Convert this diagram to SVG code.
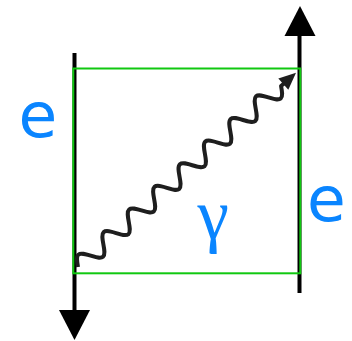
<svg xmlns="http://www.w3.org/2000/svg" width="352" height="341" viewBox="0 0 352 341">
<style>
.fermion{stroke:#000;stroke-width:4;fill:none}
.head{fill:#000}
.box{fill:none;stroke:#10c810;stroke-width:2}
.lbl{font-family:"DejaVu Sans",sans-serif;fill:#0a85ff;text-anchor:middle}
.greek{font-family:"Liberation Serif","DejaVu Serif",serif;fill:#0a85ff;text-anchor:middle}
.photon{fill:none;stroke:#1e1e1e;stroke-width:4;stroke-linejoin:round}
</style>
<rect width="352" height="341" fill="#fff"/>
<g id="connectors">
  <g id="electron-in">
    <line class="fermion" x1="74.5" y1="53" x2="74.5" y2="312"/>
    <polygon class="head" points="59,310 90,310 74.5,340"/>
  </g>
  <g id="electron-out">
    <line class="fermion" x1="299.5" y1="293" x2="299.5" y2="34"/>
    <polygon class="head" points="284.5,36 315.5,36 300,6"/>
  </g>
  <g id="photon" transform="translate(78,267) rotate(-41.7)">
    <path class="photon" d="M0,0 c2.772,-4.61 5.424,-9 8.5,-9 s5.728,4.39 8.5,9 s5.424,9 8.5,9 s5.728,-4.39 8.5,-9
    s5.424,-9 8.5,-9 s5.728,4.39 8.5,9 s5.424,9 8.5,9 s5.728,-4.39 8.5,-9
    s5.424,-9 8.5,-9 s5.728,4.39 8.5,9 s5.424,9 8.5,9 s5.728,-4.39 8.5,-9
    s5.424,-9 8.5,-9 s5.728,4.39 8.5,9 s5.424,9 8.5,9 s5.728,-4.39 8.5,-9
    s5.424,-9 8.5,-9 s5.728,4.39 8.5,9 s5.424,9 8.5,9 s5.728,-4.39 8.5,-9
    s5.424,-9 8.5,-9 s5.728,4.39 8.5,9 s5.424,9 8.5,9 s5.728,-4.39 8.5,-9
    s5.424,-9 8.5,-9 s5.728,4.39 8.5,9 s5.424,9 8.5,9 s5.728,-4.39 8.5,-9
    s5.424,-9 8.5,-9 s5.728,4.39 8.5,9 s5.424,9 8.5,9 s5.728,-4.39 8.5,-9 l5,0"/>
    <polygon fill="#1e1e1e" points="275,-7.5 292,0 275,7.5"/>
  </g>
</g>
<g id="box">
  <rect class="box" x="73.3" y="68.5" width="227" height="204.8"/>
</g>
<g id="label-e-left"><text class="lbl" x="37.8" y="137" font-size="63">e</text></g>
<g id="label-e-right"><text class="lbl" x="326.5" y="220.5" font-size="63">e</text></g>
<g id="label-gamma"><text class="greek" x="213.2" y="239" font-size="71">γ</text></g>
</svg>
